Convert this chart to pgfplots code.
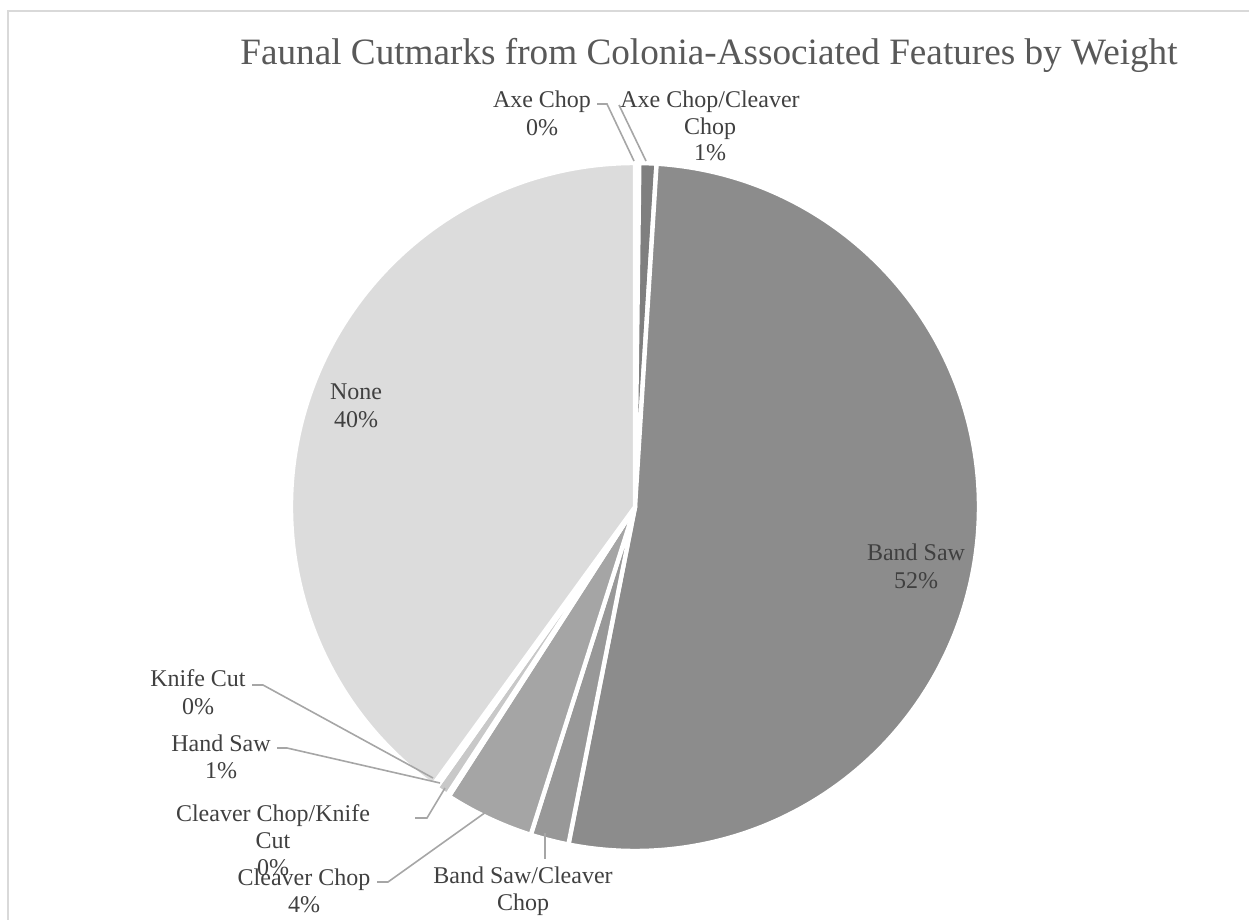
\documentclass[border=0pt]{standalone}
\usepackage{pgfplots}
\pgfplotsset{compat=1.18}
\usepackage{fontspec}
\setmainfont{Liberation Serif}
\definecolor{txt}{HTML}{404040}
\definecolor{ttl}{HTML}{595959}
\definecolor{lead}{HTML}{A6A6A6}
\definecolor{frm}{HTML}{D9D9D9}
\definecolor{cA}{HTML}{E6E6E6}
\definecolor{cB}{HTML}{7F7F7F}
\definecolor{cC}{HTML}{8C8C8C}
\definecolor{cD}{HTML}{989898}
\definecolor{cE}{HTML}{A5A5A5}
\definecolor{cF}{HTML}{B8B8B8}
\definecolor{cG}{HTML}{C8C8C8}
\definecolor{cH}{HTML}{D2D2D2}
\definecolor{cI}{HTML}{DCDCDC}
\begin{document}
\begin{tikzpicture}
\path[use as bounding box] (0,0) rectangle (624.5pt,460pt);
\clip (0,0) rectangle (624.5pt,460pt);
\begin{axis}[at={(0,0)}, anchor=south west, scale only axis,
  width=624.5pt, height=460pt, xmin=0, xmax=1249, ymin=0, ymax=920,
  y dir=reverse, hide axis, clip=false]
% slices: percentage / colour (clockwise from 12 o'clock)
\gdef\cum{0}
\foreach \v/\col in {0.2/cA, 0.8/cB, 52.1/cC, 1.8/cD, 4.2/cE, 0.1/cF, 0.6/cG, 0.2/cH, 40.0/cI}{
  \pgfmathsetmacro\sa{90-3.6*\cum}
  \pgfmathsetmacro\ea{90-3.6*(\cum+\v)}
  \edef\tmp{\noexpand\fill[\col, draw=white, line width=2.2pt, line join=round]
    (axis cs:635,507) -- ++(\sa:172pt) arc[start angle=\sa, end angle=\ea, radius=172pt] -- cycle;}
  \tmp
  \pgfmathsetmacro\n{\cum+\v}
  \xdef\cum{\n}
}
% frame
\draw[frm, line width=1pt] (axis cs:7.5,1000) -- (axis cs:7.5,11.5) -- (axis cs:1300,11.5);
% title
\node[anchor=base, inner sep=0, text=ttl, font=\fontsize{18.6}{22}\selectfont] at (axis cs:709,65) {Faunal Cutmarks from Colonia-Associated Features by Weight};
% leader lines
\draw[lead, line width=0.8pt] (axis cs:597,104) -- (axis cs:607,104) -- (axis cs:634,161);
\draw[lead, line width=0.8pt] (axis cs:619,105) -- (axis cs:646,161);
\draw[lead, line width=0.8pt] (axis cs:252,685) -- (axis cs:263,685) -- (axis cs:433,778);
\draw[lead, line width=0.8pt] (axis cs:277,748) -- (axis cs:287,748) -- (axis cs:440,783);
\draw[lead, line width=0.8pt] (axis cs:415,818) -- (axis cs:427,818) -- (axis cs:445,788);
\draw[lead, line width=0.8pt] (axis cs:377,882) -- (axis cs:388,882) -- (axis cs:486,812);
\draw[lead, line width=0.8pt] (axis cs:545,833) -- (axis cs:545,859);
% labels
\tikzset{lab/.style={anchor=base, inner sep=0, text=txt, font=\fontsize{12}{14}\selectfont}}
\node[lab] at (axis cs:542,108) {Axe Chop};
\node[lab] at (axis cs:542,136) {0\%};
\node[lab] at (axis cs:710,108) {Axe Chop/Cleaver};
\node[lab] at (axis cs:710,135) {Chop};
\node[lab] at (axis cs:710,161) {1\%};
\node[lab] at (axis cs:916,560) {Band Saw};
\node[lab] at (axis cs:916,588) {52\%};
\node[lab] at (axis cs:356,399) {None};
\node[lab] at (axis cs:356,427) {40\%};
\node[lab] at (axis cs:198,686) {Knife Cut};
\node[lab] at (axis cs:198,714) {0\%};
\node[lab] at (axis cs:221,751) {Hand Saw};
\node[lab] at (axis cs:221,778) {1\%};
\node[lab] at (axis cs:273,821) {Cleaver Chop/Knife};
\node[lab] at (axis cs:273,848) {Cut};
\node[lab] at (axis cs:273,875) {0\%};
\node[lab] at (axis cs:304,885) {Cleaver Chop};
\node[lab] at (axis cs:304,912) {4\%};
\node[lab] at (axis cs:523,883) {Band Saw/Cleaver};
\node[lab] at (axis cs:523,910) {Chop};
\end{axis}
\end{tikzpicture}
\end{document}
